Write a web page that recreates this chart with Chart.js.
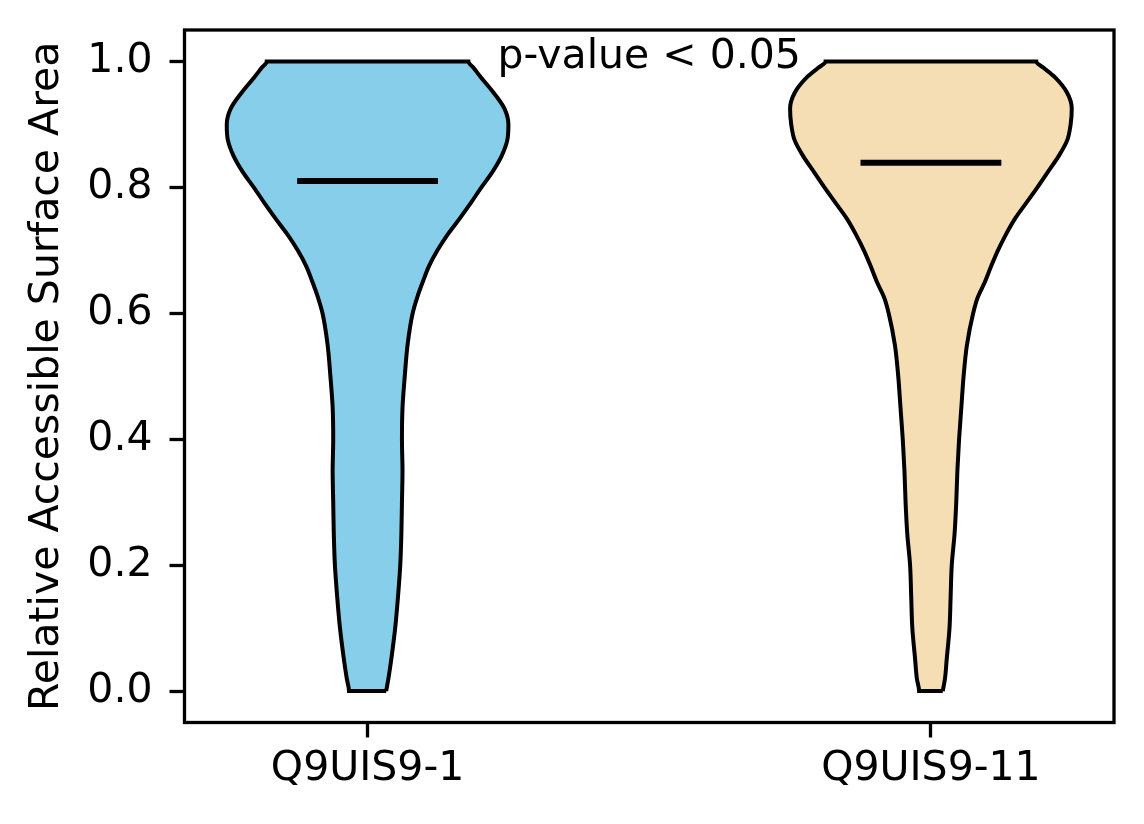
<!DOCTYPE html>
<html lang="en">
<head>
<meta charset="UTF-8">
<title>Relative Accessible Surface Area</title>
<script src="https://cdn.jsdelivr.net/npm/chart.js@4.4.0/dist/chart.umd.min.js"></script>
<style>
  html, body { margin: 0; padding: 0; background: #ffffff; }
  #chart { display: block; }
</style>
</head>
<body>
<canvas id="chart" width="1144" height="824"></canvas>
<script>
  // groups and where they sit on the x axis
  var categories = ['Q9UIS9-1', 'Q9UIS9-11'];
  var positions = [1, 2];
  var fillColors = ['#87ceeb', '#f5deb3'];
  var medians = [0.81, 0.839];

  // violin outlines: half width (in x units) at each y level
  var yLevels = [0, 0.02, 0.05, 0.1, 0.15, 0.2, 0.25, 0.3, 0.35, 0.4, 0.45, 0.5, 0.55, 0.6, 0.625,
    0.65, 0.675, 0.7, 0.725, 0.75, 0.775, 0.8, 0.825, 0.85, 0.875, 0.9, 0.925, 0.95, 0.975, 0.99, 1.0];
  var halfWidthQ1 = [0.033, 0.037, 0.042, 0.049, 0.054, 0.058, 0.060, 0.061, 0.062, 0.061, 0.062, 0.066, 0.071, 0.080, 0.088,
    0.098, 0.109, 0.124, 0.142, 0.163, 0.183, 0.202, 0.222, 0.238, 0.248, 0.250, 0.243, 0.224, 0.201, 0.188, 0.179];
  var halfWidthQ11 = [0.021, 0.025, 0.028, 0.033, 0.035, 0.037, 0.042, 0.045, 0.047, 0.050, 0.054, 0.058, 0.064, 0.075, 0.083,
    0.096, 0.107, 0.119, 0.133, 0.149, 0.169, 0.189, 0.208, 0.227, 0.242, 0.248, 0.250, 0.242, 0.220, 0.200, 0.187];
  var halfWidths = [halfWidthQ1, halfWidthQ11];

  var yTicks = [0, 0.2, 0.4, 0.6, 0.8, 1.0];
  var medianHalfLength = 0.125;

  var pValueText = 'p-value < 0.05';
  var pValueX = 1.5;
  var pValueY = 0.989;

  function violinOutline(pos, hw) {
    var pts = [];
    for (var i = 0; i < yLevels.length; i++) {
      pts.push({ x: pos + hw[i], y: yLevels[i] });
    }
    for (var j = yLevels.length - 1; j >= 0; j--) {
      pts.push({ x: pos - hw[j], y: yLevels[j] });
    }
    pts.push(pts[0]);
    return pts;
  }

  var datasets = [];
  for (var k = 0; k < categories.length; k++) {
    datasets.push({
      label: categories[k],
      data: violinOutline(positions[k], halfWidths[k]),
      indexAxis: 'y',
      cubicInterpolationMode: 'monotone',
      backgroundColor: fillColors[k],
      borderColor: '#000000',
      borderWidth: 4,
      fill: 'shape',
      order: 2
    });
    datasets.push({
      label: categories[k] + ' median',
      data: [{ x: positions[k] - medianHalfLength, y: medians[k] }, { x: positions[k] + medianHalfLength, y: medians[k] }],
      borderColor: '#000000',
      borderWidth: 6,
      borderCapStyle: 'butt',
      fill: false,
      order: 1
    });
  }

  // full box around the plot area, like matplotlib spines
  var frameBox = {
    id: 'frameBox',
    afterDatasetsDraw: function (chart) {
      var a = chart.chartArea;
      var c = chart.ctx;
      c.save();
      c.strokeStyle = '#000000';
      c.lineWidth = 3.3;
      c.strokeRect(a.left, a.top, a.right - a.left, a.bottom - a.top);
      c.restore();
    }
  };

  var pValueLabel = {
    id: 'pValueLabel',
    afterDatasetsDraw: function (chart) {
      var c = chart.ctx;
      c.save();
      c.font = '41px "DejaVu Sans"';
      c.fillStyle = '#000000';
      c.textAlign = 'center';
      c.textBaseline = 'alphabetic';
      c.fillText(pValueText, chart.scales.x.getPixelForValue(pValueX), chart.scales.y.getPixelForValue(pValueY));
      c.restore();
    }
  };

  Chart.defaults.font.family = '"DejaVu Sans"';
  Chart.defaults.font.size = 41;
  Chart.defaults.color = '#000000';

  var ctx = document.getElementById('chart').getContext('2d');
  var chart = new Chart(ctx, {
    type: 'line',
    data: { datasets: datasets },
    options: {
      responsive: false,
      devicePixelRatio: 1,
      animation: false,
      layout: { padding: { top: 30, right: 30, left: 0, bottom: 0 } },
      plugins: {
        legend: { display: false },
        tooltip: { enabled: false }
      },
      elements: {
        point: { radius: 0 },
        line: { tension: 0 }
      },
      scales: {
        x: {
          type: 'linear',
          min: 0.675,
          max: 2.325,
          afterBuildTicks: function (scale) {
            scale.ticks = positions.map(function (v) { return { value: v }; });
          },
          afterFit: function (scale) {
            scale.height = 101.5;
            scale.paddingLeft = 0;
            scale.paddingRight = 0;
          },
          ticks: {
            autoSkip: false,
            maxRotation: 0,
            padding: 7,
            callback: function (value, index) { return categories[index]; }
          },
          grid: {
            drawOnChartArea: false,
            drawTicks: true,
            tickLength: 15,
            tickWidth: 3.3,
            tickColor: '#000000'
          },
          border: { display: false }
        },
        y: {
          type: 'linear',
          min: -0.05,
          max: 1.05,
          afterBuildTicks: function (scale) {
            scale.ticks = yTicks.map(function (v) { return { value: v }; });
          },
          afterFit: function (scale) {
            scale.width = 184.5;
            scale.paddingTop = 0;
            scale.paddingBottom = 0;
          },
          ticks: {
            padding: 17,
            callback: function (value) { return Number(value).toFixed(1); }
          },
          grid: {
            drawOnChartArea: false,
            drawTicks: true,
            tickLength: 15,
            tickWidth: 3.3,
            tickColor: '#000000'
          },
          border: { display: false },
          title: {
            display: true,
            text: 'Relative Accessible Surface Area',
            font: { size: 41 },
            padding: { top: 23, bottom: 0 }
          }
        }
      }
    },
    plugins: [frameBox, pValueLabel]
  });
</script>
</body>
</html>
